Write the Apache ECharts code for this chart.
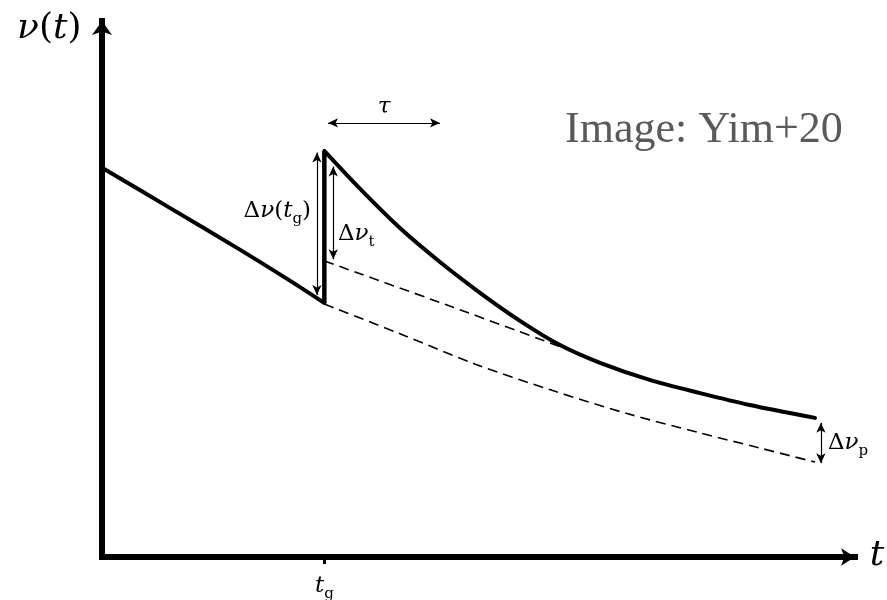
<!DOCTYPE html>
<html>
<head>
<meta charset="utf-8">
<script src="https://cdn.jsdelivr.net/npm/echarts@6/dist/echarts.min.js"></script>
<style>
html, body { margin: 0; padding: 0; background: #fff; }
#main { width: 887px; height: 600px; }
</style>
</head>
<body>
<div id="main"></div>
<script>
// glitch epoch
var tg = 30;

// spin-down before the glitch
var preT = [0, 9.2, 18.6, 25.4, 30];
var preV = [72.2, 64.7, 57.0, 51.2, 47.1];

// recovery after the glitch
var postT = [30, 34.8, 40.2, 45.6, 51.0, 56.4, 61.8, 67.2, 74.0, 80.7, 87.4, 96.2];
var postV = [75.3, 68.3, 61.0, 54.7, 49.0, 43.8, 39.3, 36.0, 32.8, 30.4, 28.2, 25.8];

// permanent-step baseline (upper dashed)
var stepT = [30, 47.0, 63.8];
var stepV = [54.9, 46.5, 38.0];

// extrapolated pre-glitch spin-down (lower dashed)
var oldT = [30, 40.2, 50.3, 60.5, 70.6, 80.7, 88.8, 96.2];
var oldV = [46.9, 41.4, 35.8, 31.0, 26.7, 23.0, 20.2, 17.6];

// double arrows: [t1, v1, t2, v2]
var arrowDnuG = [29.0, 75.0, 29.0, 48.6];
var arrowDnuT = [31.2, 72.4, 31.2, 55.2];
var arrowTau = [30.5, 80.5, 45.6, 80.5];
var arrowDnuP = [97.0, 24.9, 97.0, 17.4];

function zip(a, b) {
  return a.map(function (x, i) { return [x, b[i]]; });
}
function seg(a) {
  return [{ coord: [a[0], a[1]] }, { coord: [a[2], a[3]] }];
}

var serif = 'DejaVu Serif';
var rich = {
  m: { fontFamily: serif, fontSize: 23, fontStyle: 'italic', color: '#000', lineHeight: 32, verticalAlign: 'middle' },
  u: { fontFamily: serif, fontSize: 23, color: '#000', lineHeight: 32, verticalAlign: 'middle' },
  s: { fontFamily: serif, fontSize: 15, color: '#000', lineHeight: 15, verticalAlign: 'bottom' },
  M: { fontFamily: serif, fontSize: 36, fontStyle: 'italic', color: '#000', lineHeight: 44, verticalAlign: 'middle' },
  P: { fontFamily: serif, fontSize: 36, color: '#000', lineHeight: 44, verticalAlign: 'middle' }
};

function label(x, y, text, align) {
  return {
    type: 'text',
    x: x,
    y: y,
    silent: true,
    style: {
      text: text,
      rich: rich,
      align: align, textAlign: align,
      verticalAlign: 'middle', textVerticalAlign: 'middle'
    }
  };
}

var solid = { color: '#000', width: 4, cap: 'round', join: 'round' };
var dashed = { color: '#000', width: 1.6, type: [10, 6] };

var chart = echarts.init(document.getElementById('main'));
chart.setOption({
  backgroundColor: '#fff',
  animation: false,
  grid: { left: 102, right: 32, top: 21, bottom: 43, outerBoundsMode: 'none', containLabel: false },
  xAxis: {
    type: 'value',
    min: 0,
    max: 101.6,
    splitLine: { show: false },
    axisLine: {
      lineStyle: { color: '#000', width: 6, cap: 'square' },
      symbol: ['none', 'arrow'],
      symbolSize: [13, 14]
    },
    axisTick: { show: true, customValues: [tg], length: 7, lineStyle: { color: '#000', width: 3 } },
    axisLabel: {
      show: true,
      customValues: [tg],
      margin: 13,
      formatter: function () { return '{m|t}{s|g}'; },
      rich: rich
    }
  },
  yAxis: {
    type: 'value',
    min: 0,
    max: 99.4,
    splitLine: { show: false },
    axisLine: {
      lineStyle: { color: '#000', width: 6, cap: 'square' },
      symbol: ['none', 'arrow'],
      symbolSize: [15, 14]
    },
    axisTick: { show: false },
    axisLabel: { show: false }
  },
  series: [
    { type: 'line', data: zip(preT, preV), showSymbol: false, smooth: 0.3, lineStyle: solid },
    {
      type: 'line',
      data: [[tg, preV[preV.length - 1]], [tg, postV[0]]],
      showSymbol: false,
      lineStyle: { color: '#000', width: 4.5 },
      markLine: {
        silent: true,
        symbol: ['arrow', 'arrow'],
        symbolSize: [7, 10],
        label: { show: false },
        lineStyle: { color: '#000', width: 1.2, type: 'solid' },
        data: [seg(arrowDnuG), seg(arrowDnuT), seg(arrowTau), seg(arrowDnuP)]
      }
    },
    { type: 'line', data: zip(postT, postV), showSymbol: false, smooth: 0.3, lineStyle: solid },
    { type: 'line', data: zip(stepT, stepV), showSymbol: false, smooth: 0.3, lineStyle: dashed },
    { type: 'line', data: zip(oldT, oldV), showSymbol: false, smooth: 0.3, lineStyle: dashed }
  ],
  graphic: [
    label(17, 29, '{M|ν}{P|(}{M|t}{P|)}', 'left'),
    label(877, 556, '{M|t}', 'center'),
    label(311, 211, '{u|Δ}{m|ν}{u|(}{m|t}{s|g}{u|)}', 'right'),
    label(338, 234, '{u|Δ}{m|ν}{s|t}', 'left'),
    label(384, 107, '{m|τ}', 'center'),
    label(828, 443, '{u|Δ}{m|ν}{s|p}', 'left'),
    {
      type: 'text',
      x: 565,
      y: 152,
      silent: true,
      style: {
        text: 'Image: Yim+20',
        fontFamily: 'Liberation Serif',
        fontSize: 44,
        fill: '#595959',
        align: 'left', textAlign: 'left',
        verticalAlign: 'bottom', textVerticalAlign: 'bottom'
      }
    }
  ]
});
</script>
</body>
</html>
